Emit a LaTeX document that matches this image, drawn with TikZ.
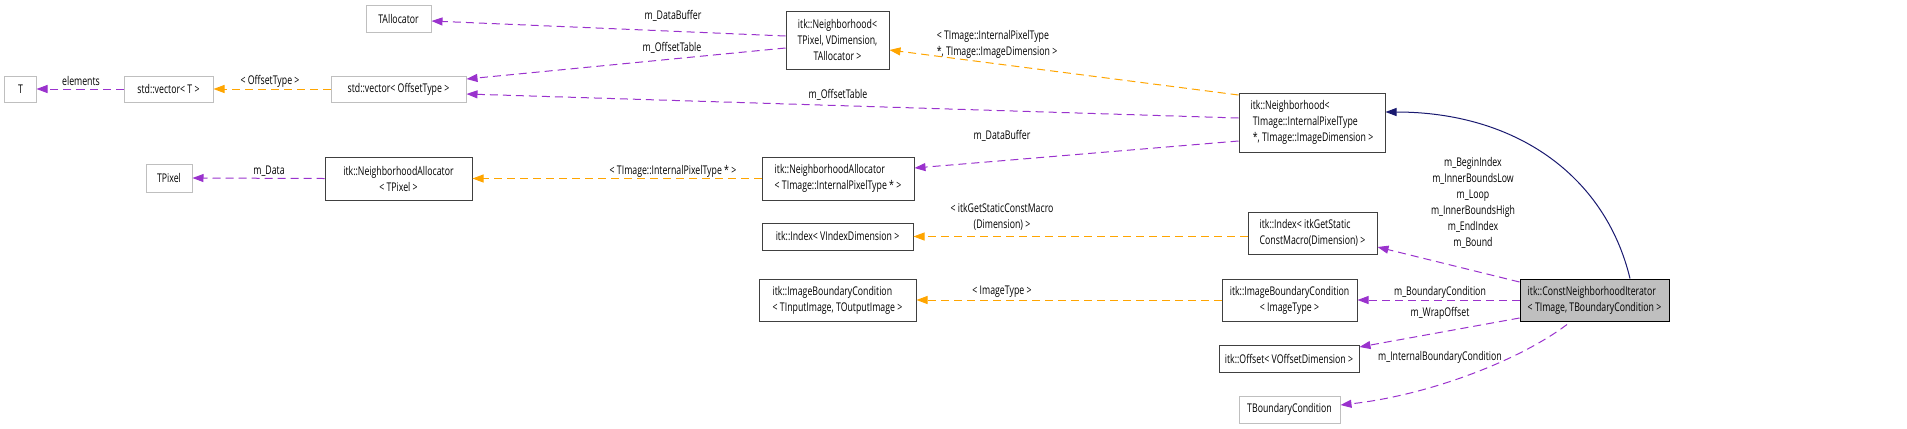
\documentclass[tikz,border=0pt]{standalone}
\usepackage{fontspec}
\setmainfont[FakeStretch=0.73]{Open Sans}
\usetikzlibrary{arrows.meta}
\definecolor{memberpurple}{HTML}{9A32CD}
\definecolor{tmplorange}{HTML}{FFA500}
\definecolor{inheritblue}{HTML}{191970}
\definecolor{darkbox}{HTML}{404040}
\definecolor{lightbox}{HTML}{BFBFBF}
\definecolor{selgray}{HTML}{BFBFBF}
\newcommand{\dfont}{\fontsize{12bp}{16bp}\selectfont}
\tikzset{
  box/.style={draw=darkbox, line width=1bp, fill=white, inner sep=0pt, minimum height=27bp, font=\dfont},
  ghost/.style={box, draw=lightbox},
  lbl/.style={inner sep=0pt, font=\dfont},
  member/.style={draw=memberpurple, line width=1bp, dash pattern=on 8bp off 5bp, -{Triangle[length=11bp,width=8bp]}},
  tmpl/.style={member, draw=tmplorange},
  inherit/.style={draw=inheritblue, line width=1bp, -{Triangle[length=11bp,width=8bp]}}
}
\begin{document}
\begin{tikzpicture}[x=1bp,y=-1bp]
    \useasboundingbox (0,0) rectangle (1907,428);
    \node[ghost, minimum width=65bp] (talloc) at (398.5,18.5) {TAllocator};
    \node[ghost, minimum width=31bp, minimum height=26bp] (t) at (20.5,89) {T};
    \node[ghost, minimum width=89bp, minimum height=26bp] (vecT) at (168.5,89) {std::vector< T >};
    \node[ghost, minimum width=135bp, minimum height=26bp] (vecOff) at (398.5,89) {std::vector< OffsetType >};
    \node[box, minimum width=103bp, minimum height=58bp, align=center] (nbPix) at (837.5,40) {itk::Neighborhood<\\ TPixel, VDimension,\\ TAllocator >};
    \node[box, minimum width=146bp, minimum height=59bp, align=left] (nbImg) at (1312,122.5) {itk::Neighborhood<\\\ TImage::InternalPixelType\\\ *, TImage::ImageDimension >};
    \node[ghost, minimum width=46bp, minimum height=28bp] (tpix) at (169,178) {TPixel};
    \node[box, minimum width=147bp, minimum height=43bp, align=center] (naPix) at (398.5,178.5) {itk::NeighborhoodAllocator\\< TPixel >};
    \node[box, minimum width=152bp, minimum height=43bp, align=left] (naImg) at (838,178.5) {itk::NeighborhoodAllocator\\< TImage::InternalPixelType * >};
    \node[box, minimum width=151bp] (idxV) at (837.5,236.5) {itk::Index< VIndexDimension >};
    \node[box, minimum width=129bp, minimum height=42bp, align=left] (idxG) at (1312.5,233) {itk::Index< itkGetStatic\\ConstMacro(Dimension) >};
    \node[box, minimum width=157bp, minimum height=42bp, align=left] (ibcIO) at (837.5,300) {itk::ImageBoundaryCondition\\< TInputImage, TOutputImage >};
    \node[box, minimum width=135bp, minimum height=42bp, align=center] (ibcImg) at (1289.5,300) {itk::ImageBoundaryCondition\\< ImageType >};
    \node[box, fill=selgray, draw=black, minimum width=149bp, minimum height=42bp, align=left] (cni) at (1594.5,300) {itk::ConstNeighborhoodIterator\\< TImage, TBoundaryCondition >};
    \node[box, minimum width=140bp] (offs) at (1289,358.5) {itk::Offset< VOffsetDimension >};
    \node[ghost, minimum width=101bp] (tbc) at (1289.5,409.5) {TBoundaryCondition};

    \draw[member] ([yshift=4bp]nbPix.west) -- ([yshift=-2.5bp]talloc.east);
    \draw[member] ([yshift=-8bp]nbPix.west) -- ([yshift=10bp]vecOff.east);
    \draw[member] ([yshift=4.5bp]nbImg.west) -- ([yshift=-5bp]vecOff.east);
    \draw[tmpl] (vecOff.west) -- (vecT.east);
    \draw[member] (vecT.west) -- (t.east);
    \draw[tmpl] ([yshift=27.5bp]nbImg.west) -- ([yshift=-10bp]nbPix.east);
    \draw[member] ([yshift=-18.5bp]nbImg.west) -- ([yshift=10.5bp]naImg.east);
    \draw[member] (naPix.west) -- (tpix.east);
    \draw[tmpl] (naImg.west) -- (naPix.east);
    \draw[tmpl] (idxG.west |- idxV.east) -- (idxV.east);
    \draw[member] ([yshift=18bp]cni.west) -- ([yshift=-14bp]idxG.east);
    \draw[tmpl] (ibcImg.west) -- (ibcIO.east);
    \draw[member] (cni.west) -- (ibcImg.east);
    \draw[member] ([yshift=-18bp]cni.west) -- ([yshift=11.5bp]offs.east);
    \draw[member] ([xshift=-27.5bp,yshift=-3bp]cni.south) .. controls (1520,360) and (1430,395) .. ([yshift=4.5bp]tbc.east);
    \draw[inherit] ([xshift=35.5bp]cni.north) .. controls (1605,175) and (1515,112) .. ([yshift=10.5bp]nbImg.east);

    \node[lbl] (lDataTop) at (673,16) {m\_DataBuffer};
    \node[lbl] (lOffTop) at (672,48) {m\_OffsetTable};
    \node[lbl] (lElem) at (81,81) {elements};
    \node[lbl] (lOffType) at (270,81) {< OffsetType >};
    \node[lbl, align=left] (lNbArgs) at (997,44) {< TImage::InternalPixelType\\*, TImage::ImageDimension >};
    \node[lbl] (lOffLow) at (838,95) {m\_OffsetTable};
    \node[lbl] (lDataLow) at (1002,136) {m\_DataBuffer};
    \node[lbl] (lData) at (269,171) {m\_Data};
    \node[lbl] (lPixPtr) at (673,171) {< TImage::InternalPixelType * >};
    \node[lbl, align=center] (lDim) at (1002,217) {< itkGetStaticConstMacro\\(Dimension) >};
    \node[lbl] (lImgType) at (1002,292) {< ImageType >};
    \node[lbl, align=center] (lBounds) at (1473,202.5) {m\_BeginIndex\\m\_InnerBoundsLow\\m\_Loop\\m\_InnerBoundsHigh\\m\_EndIndex\\m\_Bound};
    \node[lbl] (lBC) at (1440,292) {m\_BoundaryCondition};
    \node[lbl] (lWrap) at (1440,313) {m\_WrapOffset};
    \node[lbl] (lIBC) at (1440,357) {m\_InternalBoundaryCondition};
\end{tikzpicture}
\end{document}
